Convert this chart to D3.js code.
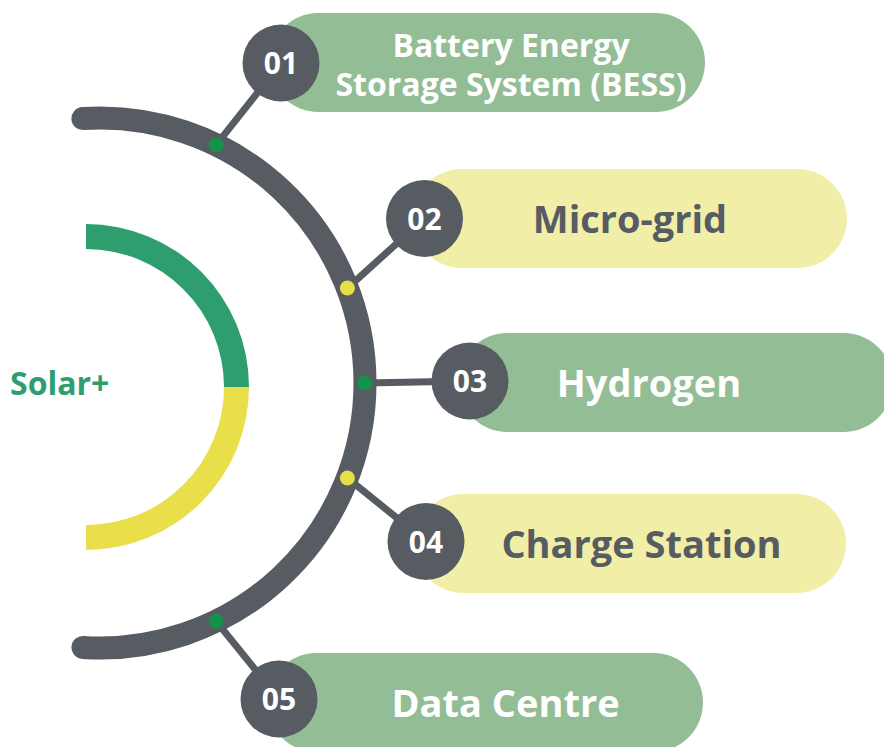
<!DOCTYPE html>
<html>
<head>
<meta charset="utf-8">
<script src="https://cdn.jsdelivr.net/npm/d3@7"></script>
<style>
  html, body { margin: 0; padding: 0; background: #fff; }
  svg { display: block; font-family: "Open Sans", sans-serif; font-weight: 700; }
</style>
</head>
<body>
<div id="chart"></div>
<script>
// Data
const centreLabel = "Solar+";
const stepNumbers = ["01", "02", "03", "04", "05"];
const stepLabels = [
    ["Battery Energy", "Storage System (BESS)"],
    ["Micro-grid"],
    ["Hydrogen"],
    ["Charge Station"],
    ["Data Centre"]
];
const stepKinds = ["green", "yellow", "green", "yellow", "green"];
// where each step sits on the big arc, degrees from horizontal
const stepAngles = [-64, -21, 0, 21, 64];

// Layout (not data)
const width = 884;
const height = 747;
const bubbleX = [281, 424.5, 470, 426, 279];
const bubbleY = [63, 218.5, 381, 541.5, 699];
const pillY = [62.5, 218.5, 382.5, 543.5, 702.5];
const pillRight = [705, 847, 893, 846, 703];
const textX = [511, 630, 649, 641.5, 505.5];

const colors = {
    dark: "#565c62",
    green: { pill: "#93bd94", dot: "#14924a", text: "#ffffff" },
    yellow: { pill: "#f1eea8", dot: "#e7df47", text: "#565c62" },
    ringGreen: "#2f9e6e",
    ringYellow: "#e8df4a"
};

const svg = d3.select('#chart').append('svg')
    .attr('width', width)
    .attr('height', height);

// Big arc (right half of a circle, ends slightly past top and bottom)
const arcCx = 100, arcCy = 383, arcR = 265;
const toRad = d3.scaleLinear().domain([0, 180]).range([0, Math.PI]);
const bigArc = d3.path();
bigArc.arc(arcCx, arcCy, arcR, toRad(-93.7), toRad(93.7));
svg.append('path')
    .attr('d', bigArc.toString())
    .attr('fill', 'none')
    .attr('stroke', colors.dark)
    .attr('stroke-width', 23)
    .attr('stroke-linecap', 'round');

// Inner half ring
const ring = d3.arc().innerRadius(138).outerRadius(163);
const ringG = svg.append('g').attr('transform', 'translate(86,387)');
ringG.append('path')
    .attr('d', ring({ startAngle: 0, endAngle: Math.PI / 2 }))
    .attr('fill', colors.ringGreen);
ringG.append('path')
    .attr('d', ring({ startAngle: Math.PI / 2, endAngle: Math.PI }))
    .attr('fill', colors.ringYellow);

svg.append('text')
    .attr('x', 10)
    .attr('y', 395)
    .attr('fill', colors.ringGreen)
    .attr('font-size', 32)
    .text(centreLabel);

// Points on the arc
const steps = stepNumbers.map((num, i) => ({
    num: num,
    lines: stepLabels[i],
    kind: stepKinds[i],
    dx: arcCx + arcR * Math.cos(toRad(stepAngles[i])),
    dy: arcCy + arcR * Math.sin(toRad(stepAngles[i])),
    bx: bubbleX[i],
    by: bubbleY[i],
    py: pillY[i],
    pr: pillRight[i],
    tx: textX[i]
}));

// Connectors
svg.selectAll('line.connector')
    .data(steps)
    .enter()
    .append('line')
    .attr('class', 'connector')
    .attr('x1', d => d.dx)
    .attr('y1', d => d.dy)
    .attr('x2', d => d.bx)
    .attr('y2', d => d.by)
    .attr('stroke', colors.dark)
    .attr('stroke-width', 7);

svg.selectAll('circle.dot')
    .data(steps)
    .enter()
    .append('circle')
    .attr('class', 'dot')
    .attr('cx', d => d.dx)
    .attr('cy', d => d.dy)
    .attr('r', 7.5)
    .attr('fill', d => colors[d.kind].dot);

// Pills
const pillH = 99;
const item = svg.selectAll('g.step')
    .data(steps)
    .enter()
    .append('g')
    .attr('class', 'step');

item.append('rect')
    .attr('x', d => d.bx - 12)
    .attr('y', d => d.py - pillH / 2)
    .attr('width', d => d.pr - (d.bx - 12))
    .attr('height', pillH)
    .attr('rx', pillH / 2)
    .attr('fill', d => colors[d.kind].pill);

item.append('circle')
    .attr('cx', d => d.bx)
    .attr('cy', d => d.by)
    .attr('r', 38.5)
    .attr('fill', colors.dark);

item.append('text')
    .attr('x', d => d.bx)
    .attr('y', d => d.by + 11)
    .attr('text-anchor', 'middle')
    .attr('font-size', 30)
    .attr('fill', '#fff')
    .text(d => d.num);

// Labels (one or two lines)
item.each(function(d) {
    const t = d3.select(this).append('text')
        .attr('text-anchor', 'middle')
        .attr('fill', colors[d.kind].text);
    if (d.lines.length === 1) {
        t.attr('x', d.tx)
         .attr('y', d.py + 14)
         .attr('font-size', 38)
         .text(d.lines[0]);
    } else {
        t.attr('font-size', 32);
        t.selectAll('tspan')
            .data(d.lines)
            .enter()
            .append('tspan')
            .attr('x', d.tx)
            .attr('y', (l, j) => 57 + j * 39)
            .text(l => l);
    }
});
</script>
</body>
</html>
